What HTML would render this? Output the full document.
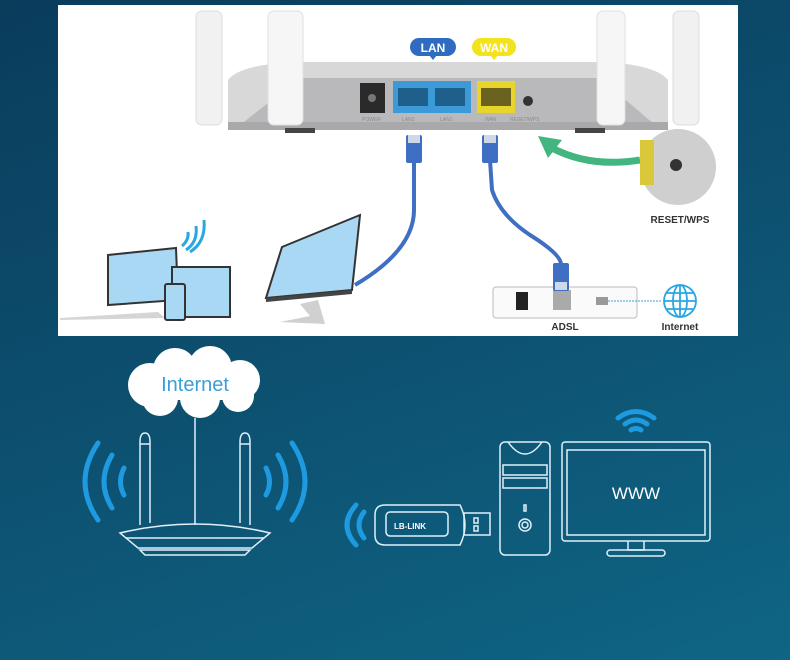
<!DOCTYPE html>
<html><head><meta charset="utf-8"><style>
html,body{margin:0;padding:0;width:790px;height:660px;overflow:hidden}
body{background:linear-gradient(160deg,#0a3c5c 0%,#0d5070 50%,#0f6585 100%)}
svg{display:block}
text{font-family:"Liberation Sans",sans-serif}
</style></head><body>
<svg width="790" height="660" viewBox="0 0 790 660" xmlns="http://www.w3.org/2000/svg">
<!-- white panel -->
<rect x="58" y="5" width="680" height="331" fill="#fff"/>
<!-- antennas back -->
<rect x="196" y="11" width="26" height="114" rx="6" fill="#f1f1f1" stroke="#ddd"/>
<rect x="673" y="11" width="26" height="114" rx="6" fill="#f1f1f1" stroke="#ddd"/>
<!-- router body -->
<path d="M228 80 Q240 64 300 62 L600 62 Q655 64 668 80 L668 125 L228 125 Z" fill="#d8d8d8"/>
<path d="M240 125 L300 78 L600 78 L655 125 Z" fill="#b9b9bb"/>
<rect x="228" y="122" width="440" height="8" fill="#a9a9ab"/>
<rect x="285" y="128" width="30" height="5" fill="#444"/><rect x="575" y="128" width="30" height="5" fill="#444"/>
<!-- front antennas -->
<rect x="268" y="11" width="35" height="114" rx="6" fill="#f6f6f6" stroke="#e0e0e0"/>
<rect x="597" y="11" width="28" height="114" rx="6" fill="#f6f6f6" stroke="#e0e0e0"/>
<!-- ports -->
<rect x="360" y="83" width="25" height="30" fill="#2a2a2a"/><circle cx="372" cy="98" r="4" fill="#777"/>
<rect x="393" y="81" width="78" height="32" fill="#3c9ad9"/>
<rect x="398" y="88" width="30" height="18" fill="#1e5f8c"/><rect x="435" y="88" width="30" height="18" fill="#1e5f8c"/>
<rect x="477" y="81" width="38" height="32" fill="#e8d52a"/>
<rect x="481" y="88" width="30" height="18" fill="#6b6220"/>
<circle cx="528" cy="101" r="5" fill="#333"/>
<g font-size="5" fill="#8a8a8a"><text x="362" y="121">POWER</text><text x="402" y="121">LAN2</text><text x="440" y="121">LAN1</text><text x="485" y="121">WAN</text><text x="510" y="121">RESET/WPS</text></g>
<!-- badges -->
<rect x="410" y="38" width="46" height="18" rx="9" fill="#2f6cc0"/><path d="M429 55 L433 60 L437 55Z" fill="#2f6cc0"/>
<text x="433" y="52" font-size="12" fill="#fff" font-weight="bold" text-anchor="middle">LAN</text>
<rect x="472" y="38" width="44" height="18" rx="9" fill="#f3e31c"/><path d="M490 55 L494 60 L498 55Z" fill="#f3e31c"/>
<text x="494" y="52" font-size="12" fill="#fff" font-weight="bold" text-anchor="middle">WAN</text>
<!-- cables -->
<path d="M414 160 L414 210 Q414 250 355 285" stroke="#3f6fc2" stroke-width="4" fill="none"/>
<rect x="406" y="135" width="16" height="28" rx="2" fill="#3f6fc2"/><rect x="408" y="135" width="12" height="8" fill="#cfd8e8"/>
<path d="M490 160 L492 190 Q500 215 530 235 Q562 255 561 265" stroke="#3f6fc2" stroke-width="4" fill="none"/>
<rect x="482" y="135" width="16" height="28" rx="2" fill="#3f6fc2"/><rect x="484" y="135" width="12" height="8" fill="#cfd8e8"/>
<!-- green arrow -->
<path d="M640 160 Q590 168 552 148" stroke="#43b580" stroke-width="7" fill="none"/>
<path d="M538 136 L562 140 L548 158Z" fill="#43b580"/>
<!-- reset zoom -->
<circle cx="678" cy="167" r="38" fill="#cfcfcf"/>
<rect x="640" y="140" width="14" height="45" fill="#d9c93a"/>
<circle cx="676" cy="165" r="6" fill="#333"/>
<text x="680" y="223" font-size="10" font-weight="bold" fill="#333" text-anchor="middle">RESET/WPS</text>
<!-- laptop / tablet / phone -->
<path d="M108 255 L176 248 L178 300 L108 305Z" fill="#a9d8f5" stroke="#333" stroke-width="2"/>
<path d="M60 318 L158 312 L165 318 L60 320Z" fill="#d5d5d5"/>
<rect x="172" y="267" width="58" height="50" fill="#a9d8f5" stroke="#333" stroke-width="2"/>
<rect x="165" y="284" width="20" height="36" rx="2" fill="#a9d8f5" stroke="#333" stroke-width="2"/>
<g fill="none" stroke="#2aa7e0" stroke-width="3"><path d="M182 246 Q189 240 188 232"/><path d="M186 250 Q198 242 196 226"/><path d="M190 252 Q206 242 204 220"/></g>
<!-- monitor -->
<path d="M282 247 L360 215 L352 290 L266 298Z" fill="#a9d8f5" stroke="#333" stroke-width="2"/>
<path d="M266 298 L352 290 L352 294 L266 302Z" fill="#444"/>
<path d="M300 304 L310 316 L280 322 L325 324 L318 300Z" fill="#d0d0d0"/>
<!-- ADSL -->
<rect x="493" y="287" width="144" height="31" rx="3" fill="#fafafa" stroke="#bbb"/>
<rect x="516" y="292" width="12" height="18" fill="#222"/>
<rect x="553" y="290" width="18" height="20" fill="#aaa"/>
<rect x="553" y="263" width="16" height="28" rx="2" fill="#3f6fc2"/><rect x="555" y="282" width="12" height="8" fill="#cfd8e8"/>
<rect x="596" y="297" width="12" height="8" fill="#999"/>
<path d="M608 301 L662 301" stroke="#3aa0d8" stroke-dasharray="2 1"/>
<g fill="none" stroke="#2aa7e0" stroke-width="1.8"><circle cx="680" cy="301" r="16"/><ellipse cx="680" cy="301" rx="7" ry="16"/><path d="M664 301 H696 M667 293 H693 M667 309 H693 M680 285 V317"/></g>
<text x="565" y="330" font-size="10" font-weight="bold" fill="#333" text-anchor="middle">ADSL</text>
<text x="680" y="330" font-size="10" font-weight="bold" fill="#333" text-anchor="middle">Internet</text>

<!-- bottom: cloud -->
<g fill="#fff">
<circle cx="150" cy="385" r="22"/><circle cx="175" cy="370" r="22"/><circle cx="210" cy="368" r="22"/><circle cx="240" cy="380" r="20"/><circle cx="200" cy="398" r="20"/><circle cx="160" cy="398" r="18"/><circle cx="238" cy="396" r="16"/>
<rect x="140" y="375" width="112" height="25"/>
</g>
<text x="195" y="391" font-size="20" fill="#3a9fd6" text-anchor="middle">Internet</text>
<g fill="none" stroke="#dff0fa" stroke-width="1.5">
<line x1="195" y1="418" x2="195" y2="525"/>
<path d="M140 525 L140 442 Q140 433 145 433 Q150 433 150 442 L150 523"/><line x1="140" y1="444" x2="150" y2="444"/>
<path d="M240 523 L240 442 Q240 433 245 433 Q250 433 250 442 L250 525"/><line x1="240" y1="444" x2="250" y2="444"/>
<path d="M120 533 Q195 515 270 533 L252 548 L138 548 Z"/><line x1="126" y1="538" x2="264" y2="538"/><path d="M140 550 L250 550 L245 555 L145 555Z"/>
</g>
<g fill="none" stroke="#1d9ae0" stroke-width="5" stroke-linecap="round">
<path d="M98 443 Q72 482 98 520"/><path d="M112 455 Q96 482 112 508"/><path d="M124 468 Q117 482 124 495"/>
<path d="M292 443 Q318 482 292 520"/><path d="M278 455 Q294 482 278 508"/><path d="M266 468 Q273 482 266 495"/>
<path d="M356 505 Q338 525 356 545"/><path d="M364 512 Q354 525 364 538"/>
<path d="M618 418 Q636 405 654 418"/><path d="M625 424 Q636 416 647 424"/><path d="M631 430 Q636 427 641 430"/>
</g>
<!-- dongle -->
<g fill="none" stroke="#dff0fa" stroke-width="1.5">
<path d="M385 505 L460 505 Q470 525 460 545 L385 545 Q375 545 375 535 L375 515 Q375 505 385 505Z"/>
<rect x="386" y="512" width="62" height="24" rx="4"/>
<rect x="464" y="513" width="26" height="22"/><rect x="474" y="518" width="4" height="5"/><rect x="474" y="526" width="4" height="5"/>
<rect x="500" y="442" width="50" height="113" rx="5"/><path d="M508 442 Q525 466 542 442"/>
<rect x="503" y="465" width="44" height="10"/><rect x="503" y="478" width="44" height="10"/>
<circle cx="525" cy="525" r="6"/><circle cx="525" cy="525" r="3"/><rect x="524" y="505" width="2" height="6"/>
<rect x="562" y="442" width="148" height="99" rx="3"/><rect x="567" y="450" width="138" height="85"/>
<path d="M628 541 L628 550 L644 550 L644 541"/><rect x="607" y="550" width="58" height="6" rx="3"/>
</g>
<text x="410" y="529" font-size="8" font-weight="bold" fill="#fff" text-anchor="middle">LB-LINK</text>
<text x="636" y="499" font-size="17" fill="#fff" text-anchor="middle">WWW</text>
</svg>
</body></html>
